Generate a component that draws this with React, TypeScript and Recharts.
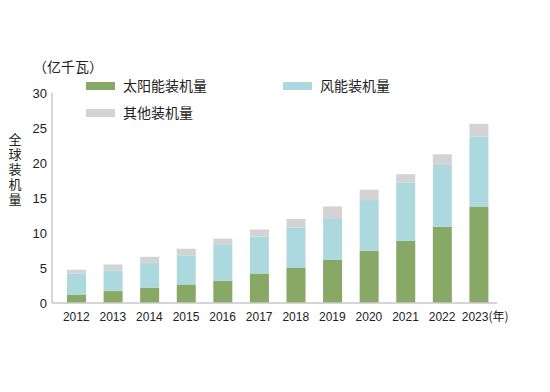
import React from "react";
import { BarChart, Bar, XAxis, YAxis } from "recharts";

const years = ["2012", "2013", "2014", "2015", "2016", "2017", "2018", "2019", "2020", "2021", "2022", "2023"];
const solar = [1.15, 1.7, 2.2, 2.65, 3.2, 4.2, 5.0, 6.15, 7.45, 8.85, 10.9, 13.7];
const wind = [3.05, 2.95, 3.5, 4.15, 5.2, 5.3, 5.8, 5.85, 7.25, 8.35, 8.8, 10.1];
const other = [0.55, 0.85, 0.9, 0.95, 0.8, 1.0, 1.2, 1.8, 1.5, 1.2, 1.55, 1.8];
const yTicks = [0, 5, 10, 15, 20, 25, 30];

const series = [
  { key: "solar", name: "太阳能装机量", color: "#88a865" },
  { key: "wind", name: "风能装机量", color: "#acd9dd" },
  { key: "other", name: "其他装机量", color: "#d3d3d3" },
];

const data = years.map((year, i) => ({
  year,
  solar: solar[i],
  wind: wind[i],
  other: other[i],
}));

const cjk = '"Noto Sans CJK SC", "Liberation Sans", sans-serif';
const narrow = '"Liberation Sans Narrow", "Liberation Sans", sans-serif';

const XTick = (props: any) => {
  const { x, y, payload, index } = props;
  const last = index === years.length - 1;
  return (
    <text
      x={last ? x - 17 : x}
      y={y}
      dy="0.71em"
      textAnchor={last ? "start" : "middle"}
      fontSize={12}
      fontFamily={narrow}
      fill="#222"
    >
      {payload.value}
      {last && <tspan fontFamily={cjk} fontSize={12}>(年)</tspan>}
    </text>
  );
};

// legend + axis titles, drawn in the svg so they don't eat plot space
const Extras = () => (
  <g fontFamily={cjk} fill="#222">
    <text x={33} y={72} fontSize={14}>（亿千瓦）</text>
    <text
      x={15}
      y={133}
      fontSize={13}
      style={{ writingMode: "vertical-rl", letterSpacing: 1.8 }}
    >
      全球装机量
    </text>
    {series.map((s, i) => {
      const x = i === 1 ? 283 : 86;
      const y = i === 2 ? 113 : 86;
      return (
        <g key={s.key}>
          <rect x={x} y={y - 4} width={29} height={8} fill={s.color} />
          <text x={x + 37} y={y + 5} fontSize={14}>{s.name}</text>
        </g>
      );
    })}
  </g>
);

export default function App() {
  return (
    <div style={{ position: "absolute", left: 0, top: 0, width: 550, height: 392, background: "#fff" }}>
      <BarChart
        width={550}
        height={392}
        data={data}
        margin={{ top: 93, right: 53, bottom: 59, left: 0 }}
      >
        <XAxis
          dataKey="year"
          height={30}
          tick={<XTick />}
          tickLine={false}
          tickSize={0}
          tickMargin={9}
          axisLine={{ stroke: "#c8c8c8", strokeWidth: 1.5 }}
          padding={{ left: 6, right: 0 }}
          interval={0}
        />
        <YAxis
          width={52}
          domain={[0, 30]}
          ticks={yTicks}
          tickLine={false}
          tickSize={0}
          tickMargin={5}
          axisLine={{ stroke: "#c8c8c8", strokeWidth: 1.5 }}
          tick={{ fontSize: 13, fill: "#222", fontFamily: '"Liberation Sans", sans-serif' }}
          label={{ content: () => <Extras /> }}
        />
        {series.map((s) => (
          <Bar
            key={s.key}
            dataKey={s.key}
            name={s.name}
            stackId="a"
            fill={s.color}
            barSize={19}
            isAnimationActive={false}
          />
        ))}
      </BarChart>
    </div>
  );
}
